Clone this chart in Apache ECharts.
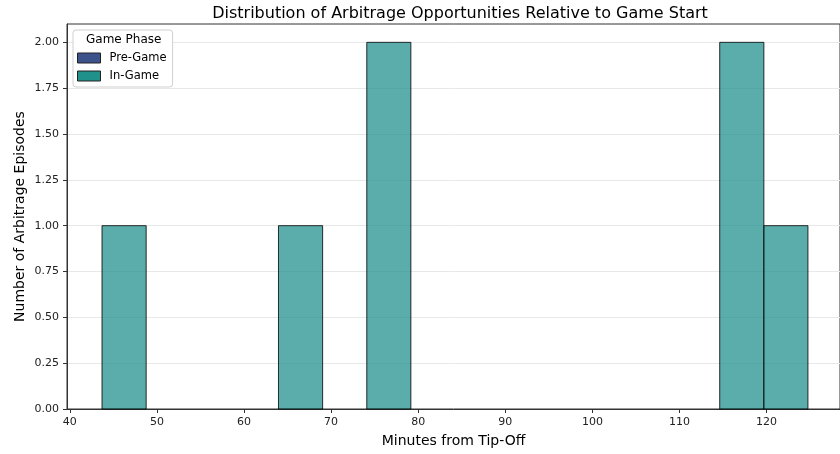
<!DOCTYPE html>
<html>
<head>
<meta charset="utf-8">
<script src="https://cdn.jsdelivr.net/npm/echarts@6/dist/echarts.min.js"></script>
<style>
html,body{margin:0;padding:0;background:#fff;}
#chart{width:840px;height:454px;}
</style>
</head>
<body>
<div id="chart"></div>
<script>
// Histogram bins (minutes from tip-off)
const binStarts = [43.70, 48.77, 53.83, 58.90, 63.96, 69.03, 74.10, 79.16, 84.23, 89.29, 94.36, 99.43, 104.49, 109.56, 114.62, 119.69];
const binEnds   = [48.77, 53.83, 58.90, 63.96, 69.03, 74.10, 79.16, 84.23, 89.29, 94.36, 99.43, 104.49, 109.56, 114.62, 119.69, 124.75];
const inGameCounts  = [1, 0, 0, 0, 1, 0, 2, 0, 0, 0, 0, 0, 0, 0, 2, 1];
const preGameCounts = [];
const xTickValues = [40, 50, 60, 70, 80, 90, 100, 110, 120];
const yTickValues = [0, 0.25, 0.5, 0.75, 1.0, 1.25, 1.5, 1.75, 2.0];
const seriesNames = ['Pre-Game', 'In-Game'];

const histData = binStarts.map((s, i) => [s, binEnds[i], inGameCounts[i]]);

function renderBar(params, api) {
  const count = api.value(2);
  if (!count) return null;
  const p0 = api.coord([api.value(0), count]);
  const p1 = api.coord([api.value(1), 0]);
  return {
    type: 'rect',
    shape: { x: p0[0], y: p0[1], width: p1[0] - p0[0], height: p1[1] - p0[1] },
    style: { fill: 'rgba(33,145,140,0.74)', stroke: 'rgba(0,0,0,0.8)', lineWidth: 1 }
  };
}

const chart = echarts.init(document.getElementById('chart'), null, { renderer: 'canvas' });
chart.setOption({
  animation: false,
  backgroundColor: '#fff',
  textStyle: { fontFamily: 'DejaVu Sans' },
  title: {
    text: 'Distribution of Arbitrage Opportunities Relative to Game Start',
    left: 455, top: 1, textAlign: 'center',
    textStyle: { fontFamily: 'DejaVu Sans', fontSize: 16, fontWeight: 'normal', color: '#000' }
  },
  grid: {
    left: 67, top: 24, bottom: 45, right: 0,
    show: true, borderColor: '#333', borderWidth: 1, backgroundColor: 'transparent'
  },
  legend: {
    data: seriesNames,
    orient: 'vertical',
    left: 73, top: 30,
    icon: 'rect',
    itemWidth: 23, itemHeight: 10, itemGap: 6,
    padding: [22, 6, 5, 4],
    backgroundColor: '#fff',
    borderColor: '#d0d0d0', borderWidth: 1, borderRadius: 3,
    itemStyle: { borderWidth: 1, borderColor: '#222' },
    textStyle: { fontFamily: 'DejaVu Sans', fontSize: 11.5, color: '#000', padding: [0, 0, 0, 4] }
  },
  graphic: [{
    type: 'text', left: 86, top: 34, z: 100,
    style: { text: 'Game Phase', font: '12px "DejaVu Sans"', fill: '#000' }
  }],
  xAxis: {
    type: 'value', min: 39.68, max: 128.43,
    name: 'Minutes from Tip-Off', nameLocation: 'middle', nameGap: 25,
    nameMoveOverlap: false,
    nameTextStyle: { fontFamily: 'DejaVu Sans', fontSize: 14, color: '#000' },
    axisLine: { show: true, onZero: false, lineStyle: { color: '#333', width: 1 } },
    axisTick: { show: true, length: 4, customValues: xTickValues, lineStyle: { color: '#333' } },
    axisLabel: { customValues: xTickValues, fontFamily: 'DejaVu Sans', fontSize: 11, color: '#222', margin: 8 },
    splitLine: { show: false }
  },
  yAxis: {
    type: 'value', min: 0, max: 2.1,
    name: 'Number of Arbitrage Episodes', nameLocation: 'middle', nameGap: 40,
    nameMoveOverlap: false,
    nameTextStyle: { fontFamily: 'DejaVu Sans', fontSize: 14, color: '#000' },
    axisLine: { show: true, lineStyle: { color: '#333', width: 1 } },
    axisTick: { show: true, length: 4, customValues: yTickValues, lineStyle: { color: '#333' } },
    axisLabel: { customValues: yTickValues, fontFamily: 'DejaVu Sans', fontSize: 11, color: '#222', margin: 8,
      formatter: v => v.toFixed(2) },
    splitLine: { show: true, lineStyle: { color: '#e8e8e8', width: 1 } }
  },
  series: [
    {
      name: 'Pre-Game', type: 'custom', data: preGameCounts,
      itemStyle: { color: '#3b528b', borderColor: '#222', borderWidth: 1 },
      renderItem: renderBar
    },
    {
      name: 'In-Game', type: 'custom', data: histData,
      encode: { x: [0, 1], y: 2 },
      itemStyle: { color: '#21918c', borderColor: '#222', borderWidth: 1 },
      renderItem: renderBar
    }
  ]
});
</script>
</body>
</html>
